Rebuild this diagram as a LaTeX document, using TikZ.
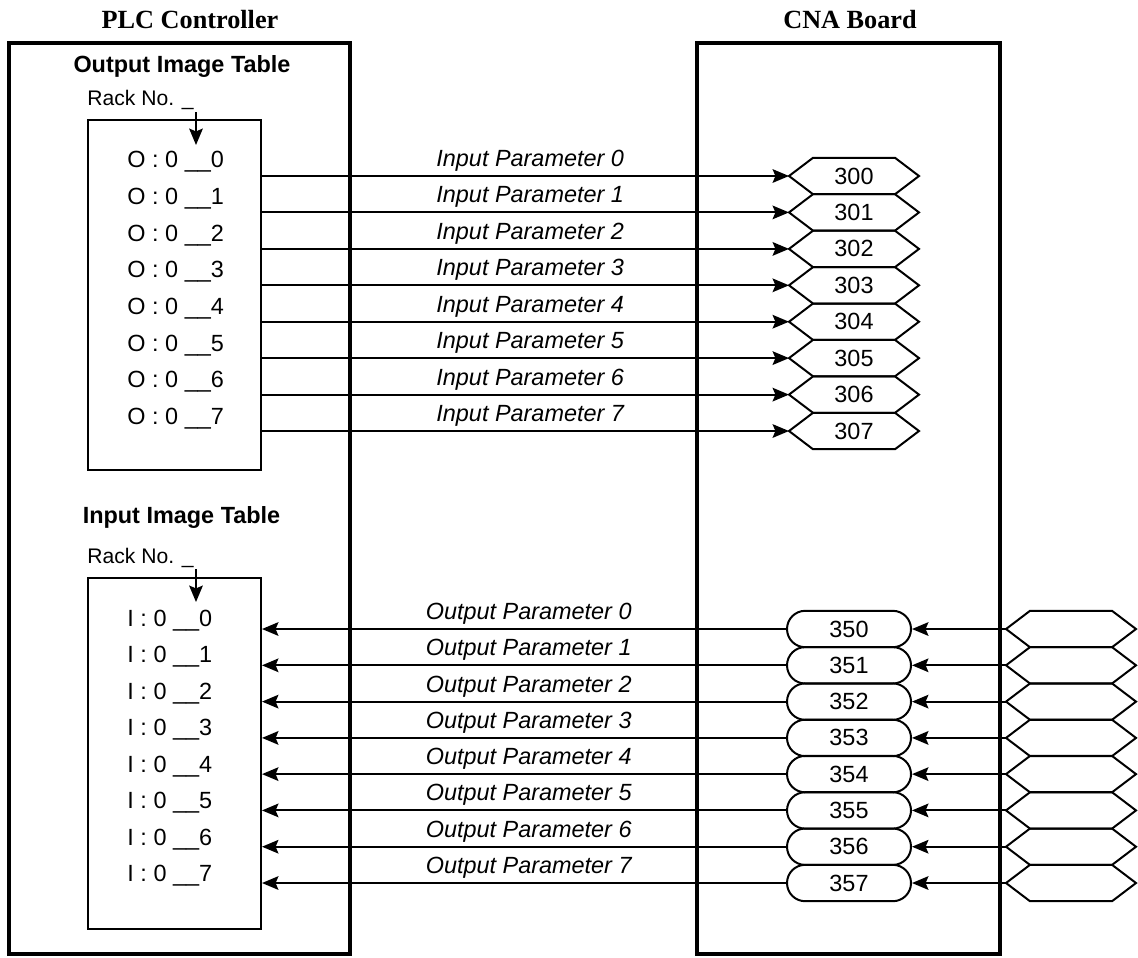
\documentclass[tikz,border=0pt]{standalone}
\usepackage{fontspec}
\setmainfont{Liberation Serif}
\setsansfont{Liberation Sans}
\usetikzlibrary{arrows.meta,shapes.misc}

\begin{document}
\begin{tikzpicture}[x=0.015cm,y=-0.015cm,
  title/.style={font=\bfseries\fontsize{11.2}{13}\selectfont,anchor=base,inner sep=0pt},
  head/.style={font=\sffamily\bfseries\fontsize{10}{12}\selectfont,anchor=base,inner sep=0pt},
  rack/.style={font=\sffamily\fontsize{9}{11}\selectfont,anchor=base west,inner sep=0pt},
  slot/.style={font=\sffamily\fontsize{10}{12}\selectfont,anchor=base west,inner sep=0pt},
  frame/.style={draw,line width=1.7pt,minimum height=13.665cm},
  imgtab/.style={draw,line width=0.85pt,minimum width=2.595cm},
  hexa/.style={minimum width=1.95cm,minimum height=0.546cm,inner sep=0pt,outer sep=0pt,
    font=\sffamily\fontsize{10}{12}\selectfont,
    append after command={\pgfextra{\draw[line width=0.85pt]
      ([xshift=0.36cm]\tikzlastnode.north west)--([xshift=-0.36cm]\tikzlastnode.north east)
      --(\tikzlastnode.east)--([xshift=-0.36cm]\tikzlastnode.south east)
      --([xshift=0.36cm]\tikzlastnode.south west)--(\tikzlastnode.west)--cycle;}}},
  oval/.style={rounded rectangle,draw,line width=0.85pt,minimum width=1.86cm,
    minimum height=0.546cm,inner sep=0pt,font=\sffamily\fontsize{10}{12}\selectfont},
  arr/.style={-{Stealth[length=7pt,width=5.8pt,inset=1.2pt]},line width=0.85pt},
  plabel/.style={font=\sffamily\itshape\fontsize{10}{12}\selectfont,above=1.6pt,
    inner sep=0pt,xshift=2pt}
]
\useasboundingbox (0,0) rectangle (1138,957);

% Two boards.
\node[title] (plcT) at (190,28) {PLC Controller};
\node[title] (cnaT) at (850,28) {CNA Board};
\node[frame,minimum width=5.115cm] (plc) at (179.5,498.5) {};
\node[frame,minimum width=4.545cm] (cna) at (848.5,498.5) {};

% Output image table.
\node[head] (ohead) at (182,72) {Output Image Table};
\node[rack] (orack) at (87,105) {Rack No. \_};
\node[imgtab,minimum height=5.25cm] (otab) at (174.5,295) {};
\coordinate (orA) at (196,112); \coordinate (orB) at (196,145);
\draw[arr] (orA)--(orB);
\node[slot] (o0) at (127,167.5) {O : 0 \_\_0};
\node[slot] (o1) at (127,204) {O : 0 \_\_1};
\node[slot] (o2) at (127,241) {O : 0 \_\_2};
\node[slot] (o3) at (127,277.5) {O : 0 \_\_3};
\node[slot] (o4) at (127,314) {O : 0 \_\_4};
\node[slot] (o5) at (127,351) {O : 0 \_\_5};
\node[slot] (o6) at (127,387.5) {O : 0 \_\_6};
\node[slot] (o7) at (127,424) {O : 0 \_\_7};

% Input parameters on the CNA board.
\node[hexa] (ip0) at (854,176) {300};
\node[hexa] (ip1) at (854,212.4) {301};
\node[hexa] (ip2) at (854,248.9) {302};
\node[hexa] (ip3) at (854,285.3) {303};
\node[hexa] (ip4) at (854,321.7) {304};
\node[hexa] (ip5) at (854,358.1) {305};
\node[hexa] (ip6) at (854,394.6) {306};
\node[hexa] (ip7) at (854,431) {307};
\draw[arr] (otab.east |- ip0)-- node[plabel] {Input Parameter 0} (ip0.west);
\draw[arr] (otab.east |- ip1)-- node[plabel] {Input Parameter 1} (ip1.west);
\draw[arr] (otab.east |- ip2)-- node[plabel] {Input Parameter 2} (ip2.west);
\draw[arr] (otab.east |- ip3)-- node[plabel] {Input Parameter 3} (ip3.west);
\draw[arr] (otab.east |- ip4)-- node[plabel] {Input Parameter 4} (ip4.west);
\draw[arr] (otab.east |- ip5)-- node[plabel] {Input Parameter 5} (ip5.west);
\draw[arr] (otab.east |- ip6)-- node[plabel] {Input Parameter 6} (ip6.west);
\draw[arr] (otab.east |- ip7)-- node[plabel] {Input Parameter 7} (ip7.west);

% Input image table.
\node[head] (ihead) at (181.5,523) {Input Image Table};
\node[rack] (irack) at (87,563) {Rack No. \_};
\node[imgtab,minimum height=5.265cm] (itab) at (174.5,753.5) {};
\coordinate (irA) at (196,569); \coordinate (irB) at (196,602);
\draw[arr] (irA)--(irB);
\node[slot] (i0) at (127,626) {I : 0 \_\_0};
\node[slot] (i1) at (127,662.5) {I : 0 \_\_1};
\node[slot] (i2) at (127,699) {I : 0 \_\_2};
\node[slot] (i3) at (127,735.5) {I : 0 \_\_3};
\node[slot] (i4) at (127,772) {I : 0 \_\_4};
\node[slot] (i5) at (127,808.5) {I : 0 \_\_5};
\node[slot] (i6) at (127,845) {I : 0 \_\_6};
\node[slot] (i7) at (127,881.5) {I : 0 \_\_7};

% Output parameters and their sources.
\node[oval] (op0) at (849,629) {350};   \node[hexa] (sc0) at (1071,629) {};
\node[oval] (op1) at (849,665.3) {351}; \node[hexa] (sc1) at (1071,665.3) {};
\node[oval] (op2) at (849,701.6) {352}; \node[hexa] (sc2) at (1071,701.6) {};
\node[oval] (op3) at (849,737.9) {353}; \node[hexa] (sc3) at (1071,737.9) {};
\node[oval] (op4) at (849,774.1) {354}; \node[hexa] (sc4) at (1071,774.1) {};
\node[oval] (op5) at (849,810.4) {355}; \node[hexa] (sc5) at (1071,810.4) {};
\node[oval] (op6) at (849,846.7) {356}; \node[hexa] (sc6) at (1071,846.7) {};
\node[oval] (op7) at (849,883) {357};   \node[hexa] (sc7) at (1071,883) {};
\draw[arr] (sc0.west)--(op0.east); \draw[arr] (sc1.west)--(op1.east);
\draw[arr] (sc2.west)--(op2.east); \draw[arr] (sc3.west)--(op3.east);
\draw[arr] (sc4.west)--(op4.east); \draw[arr] (sc5.west)--(op5.east);
\draw[arr] (sc6.west)--(op6.east); \draw[arr] (sc7.west)--(op7.east);
\draw[arr] (op0.west)-- node[plabel] {Output Parameter 0} (itab.east |- op0);
\draw[arr] (op1.west)-- node[plabel] {Output Parameter 1} (itab.east |- op1);
\draw[arr] (op2.west)-- node[plabel] {Output Parameter 2} (itab.east |- op2);
\draw[arr] (op3.west)-- node[plabel] {Output Parameter 3} (itab.east |- op3);
\draw[arr] (op4.west)-- node[plabel] {Output Parameter 4} (itab.east |- op4);
\draw[arr] (op5.west)-- node[plabel] {Output Parameter 5} (itab.east |- op5);
\draw[arr] (op6.west)-- node[plabel] {Output Parameter 6} (itab.east |- op6);
\draw[arr] (op7.west)-- node[plabel] {Output Parameter 7} (itab.east |- op7);
\end{tikzpicture}
\end{document}
